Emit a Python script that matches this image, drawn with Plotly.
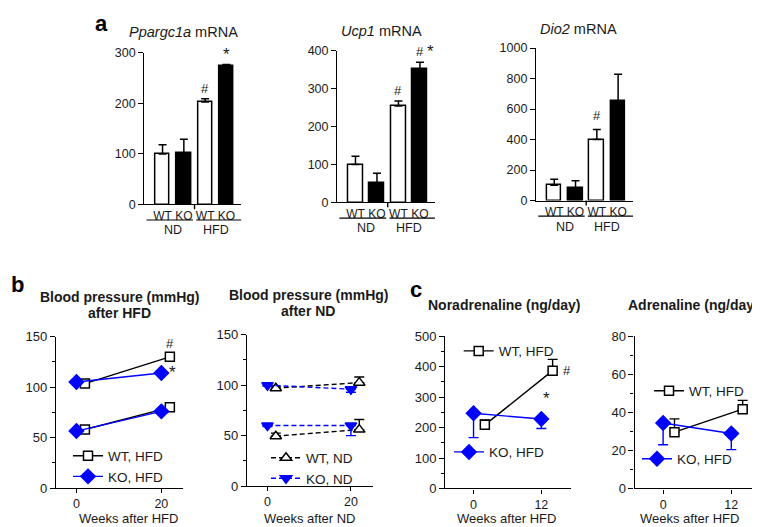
import plotly.graph_objects as go

FONT = "Liberation Sans"
BLUE = "#0000FF"
INK = "#1a1a1a"

# ---------------- Panel a: mRNA (bar charts) ----------------
genotypes = ["WT", "KO", "WT", "KO"]
diets = ["ND", "ND", "HFD", "HFD"]
ppargc1a_mean = [100, 102, 203, 274]
ppargc1a_err = [18, 27, 6, 3]
ucp1_mean = [100, 52, 255, 352]
ucp1_err = [22, 25, 13, 18]
dio2_mean = [100, 80, 400, 650]
dio2_err = [40, 50, 65, 178]

# ---------------- Panel b: blood pressure ----------------
bp_weeks = [0, 20]
wt_hfd_sys = [103.5, 130]
wt_hfd_dia = [58, 80]
ko_hfd_sys = [105, 114]
ko_hfd_dia = [56.5, 76]

wt_nd_sys = [97, 102.5]
wt_nd_sys_err = [2, 5.5]
wt_nd_dia = [49.5, 56]
wt_nd_dia_err = [3, 10]
ko_nd_sys = [100, 96]
ko_nd_sys_err = [1, 3]
ko_nd_dia = [60, 60]
ko_nd_dia_err = [1, 10]

# ---------------- Panel c: catecholamines ----------------
cat_weeks = [0, 12]
wt_nor = [209, 387]
wt_nor_err = [16, 37]
ko_nor = [247, 228]
ko_nor_err = [80, 31]
wt_adr = [29.6, 41.7]
wt_adr_err = [7, 4.6]
ko_adr = [34.4, 28.9]
ko_adr_err = [11.4, 8.5]

WT_SHIFT = 2  # WT points drawn slightly right of KO (display offset)

W, H = 760, 527
fig = go.Figure()
annotations = []
shapes = []


def px_x(p):
    return p / W


def px_y(p):
    return 1 - p / H


def txt(text, x, y, size, **kw):
    d = dict(text=text, x=px_x(x), y=px_y(y), xref="paper", yref="paper",
             showarrow=False, xanchor="center", yanchor="middle",
             font=dict(family=FONT, size=size, color=kw.pop("color", INK)))
    d.update(kw)
    annotations.append(d)


axis_common = dict(showline=True, linecolor="black", linewidth=1.4,
                   showgrid=False, zeroline=False, mirror=False,
                   tickcolor="black", tickwidth=1.4, tickangle=0,
                   tickfont=dict(family=FONT, size=12, color=INK))

layout_axes = {}

# ---------------- bar panels ----------------
bar_panels = [
    (1, ppargc1a_mean, ppargc1a_err, [0.1795, 0.3071], [0.6300, 0.9260], 300, 100),
    (2, ucp1_mean, ucp1_err, [0.4332, 0.5618], [0.6338, 0.9298], 400, 100),
    (3, dio2_mean, dio2_err, [0.6949, 0.8224], [0.6376, 0.9355], 1000, 200),
]
XR = [-0.85, 3.7]
xs = list(range(len(genotypes)))
for k, mean, err, xd, yd, ymax, dt in bar_panels:
    xa = "x" if k == 1 else f"x{k}"
    ya = "y" if k == 1 else f"y{k}"
    fig.add_trace(go.Bar(
        x=xs, y=mean, width=0.68, xaxis=xa, yaxis=ya, showlegend=False,
        marker=dict(color=["white" if g == "WT" else "black" for g in genotypes],
                    line=dict(color="black", width=1.5)),
        error_y=dict(type="data", array=err, arrayminus=[0] * len(err),
                     symmetric=False, color="black", thickness=1.5, width=4)))
    layout_axes["xaxis" if k == 1 else f"xaxis{k}"] = dict(
        axis_common, domain=xd, range=XR, anchor=ya, ticks="",
        tickvals=xs, ticktext=genotypes,
        tickfont=dict(family=FONT, size=12, color=INK))
    layout_axes["yaxis" if k == 1 else f"yaxis{k}"] = dict(
        axis_common, domain=yd, range=[0, ymax], anchor=xa, ticks="outside",
        ticklen=5, dtick=dt, tickfont=dict(family=FONT, size=12.5, color=INK))
    base = yd[0]
    # group separator tick
    sep = 1.5
    shapes.append(dict(type="line", xref=xa, yref="paper",
                       x0=sep, x1=sep, y0=base, y1=base - 5 / H,
                       line=dict(color="black", width=1.4)))
    # diet underlines & labels
    for d in ["ND", "HFD"]:
        idx = [i for i, v in enumerate(diets) if v == d]
        lo = XR[0] + 0.1 if min(idx) == 0 else sep + 0.08
        hi = sep - 0.07 if max(idx) < len(diets) - 1 else XR[1]
        shapes.append(dict(type="line", xref=xa, yref="paper",
                           x0=lo, x1=hi, y0=base - 16 / H, y1=base - 16 / H,
                           line=dict(color="black", width=1.2)))
        annotations.append(dict(text=d, x=sum(idx) / len(idx), y=0, xref=xa, yref=ya,
                                showarrow=False, yshift=-26, xanchor="center", yanchor="middle",
                                font=dict(family=FONT, size=12.5, color=INK)))

# significance marks on bars
annotations += [
    dict(text="#", x=2, y=ppargc1a_mean[2] + ppargc1a_err[2], xref="x", yref="y",
         showarrow=False, yanchor="bottom", yshift=1, font=dict(family=FONT, size=13, color=INK)),
    dict(text="*", x=3, y=ppargc1a_mean[3] + ppargc1a_err[3], xref="x", yref="y",
         showarrow=False, yanchor="bottom", yshift=-1, font=dict(family=FONT, size=17, color=INK)),
    dict(text="#", x=2, y=ucp1_mean[2] + ucp1_err[2], xref="x2", yref="y2",
         showarrow=False, yanchor="bottom", yshift=1, font=dict(family=FONT, size=13, color=INK)),
    dict(text="#", x=3, y=ucp1_mean[3] + ucp1_err[3], xref="x2", yref="y2",
         showarrow=False, yanchor="bottom", yshift=1, font=dict(family=FONT, size=13, color=INK)),
    dict(text="*", x=3, y=ucp1_mean[3] + ucp1_err[3], xref="x2", yref="y2", xshift=11,
         showarrow=False, yanchor="bottom", yshift=-1, font=dict(family=FONT, size=17, color=INK)),
    dict(text="#", x=2, y=dio2_mean[2] + dio2_err[2], xref="x3", yref="y3",
         showarrow=False, yanchor="bottom", yshift=5, font=dict(family=FONT, size=13, color=INK)),
]


# ---------------- line panels ----------------
def line_trace(x, y, color, symbol, size, name, xa, ya, dash="solid", legend=None,
               show=False, err_up=None, err_dn=None, fill=None):
    tr = dict(x=x, y=y, mode="lines+markers", xaxis=xa, yaxis=ya, name=name,
              showlegend=show, cliponaxis=False,
              line=dict(color=color, width=1.4, dash=dash),
              marker=dict(symbol=symbol, size=size, color=fill or color,
                          line=dict(color=color, width=1.5)))
    if legend:
        tr["legend"] = legend
    if err_up is not None or err_dn is not None:
        n = len(y)
        tr["error_y"] = dict(type="data", symmetric=False,
                             array=err_up if err_up is not None else [0] * n,
                             arrayminus=err_dn if err_dn is not None else [0] * n,
                             color=color, thickness=1.4, width=5)
    fig.add_trace(go.Scatter(**tr))


wt_bp_x = [w + WT_SHIFT for w in bp_weeks]
wt_cat_x = [w + WT_SHIFT for w in cat_weeks]
DASH = "5px,3px"

# b1
line_trace(wt_bp_x, wt_hfd_sys, "black", "square", 9, "WT, HFD", "x4", "y4", legend="legend", show=True, fill="white")
line_trace(wt_bp_x, wt_hfd_dia, "black", "square", 9, "WT, HFD", "x4", "y4", legend="legend", fill="white")
line_trace(bp_weeks, ko_hfd_sys, BLUE, "diamond", 11, "KO, HFD", "x4", "y4", legend="legend", show=True)
line_trace(bp_weeks, ko_hfd_dia, BLUE, "diamond", 11, "KO, HFD", "x4", "y4", legend="legend")
# b2
line_trace(wt_bp_x, wt_nd_sys, "black", "triangle-up", 10, "WT, ND", "x5", "y5", dash=DASH,
           legend="legend2", show=True, err_up=wt_nd_sys_err, fill="white")
line_trace(wt_bp_x, wt_nd_dia, "black", "triangle-up", 10, "WT, ND", "x5", "y5", dash=DASH,
           legend="legend2", err_up=wt_nd_dia_err, fill="white")
line_trace(bp_weeks, ko_nd_sys, BLUE, "triangle-down", 10, "KO, ND", "x5", "y5", dash=DASH,
           legend="legend2", show=True, err_dn=ko_nd_sys_err)
line_trace(bp_weeks, ko_nd_dia, BLUE, "triangle-down", 10, "KO, ND", "x5", "y5", dash=DASH,
           legend="legend2", err_dn=ko_nd_dia_err)
# c1
line_trace(wt_cat_x, wt_nor, "black", "square", 9, "WT, HFD", "x6", "y6", legend="legend3",
           show=True, err_up=wt_nor_err, fill="white")
line_trace(cat_weeks, ko_nor, BLUE, "diamond", 11, "KO, HFD", "x6", "y6", legend="legend4",
           show=True, err_dn=ko_nor_err)
# c2
line_trace(wt_cat_x, wt_adr, "black", "square", 9, "WT, HFD", "x7", "y7", legend="legend5",
           show=True, err_up=wt_adr_err, fill="white")
line_trace(cat_weeks, ko_adr, BLUE, "diamond", 11, "KO, HFD", "x7", "y7", legend="legend6",
           show=True, err_dn=ko_adr_err)

line_panels = [
    (4, [0.0632, 0.2303], [0.0759, 0.3719], [-4.8, 25.1], bp_weeks, 150, 50),
    (5, [0.3145, 0.4803], [0.0797, 0.3757], [-4.9, 25.3], bp_weeks, 150, 50),
    (6, [0.5754, 0.7404], [0.0753, 0.3725], [-5.0, 17.2], cat_weeks, 500, 100),
    (7, [0.8246, 0.9891], [0.0753, 0.3725], [-5.0, 17.0], cat_weeks, 80, 20),
]
for k, xd, yd, xr, ticks_x, ymax, dt in line_panels:
    layout_axes[f"xaxis{k}"] = dict(axis_common, domain=xd, range=xr, anchor=f"y{k}",
                                    ticks="outside", ticklen=4, tickvals=ticks_x,
                                    tickfont=dict(family=FONT, size=12.5, color=INK))
    layout_axes[f"yaxis{k}"] = dict(axis_common, domain=yd, range=[0, ymax], anchor=f"x{k}",
                                    ticks="outside", ticklen=5, dtick=dt,
                                    minor=dict(ticks="outside", ticklen=3, dtick=dt / 2,
                                               tickcolor="black", tickwidth=1.4),
                                    tickfont=dict(family=FONT, size=13, color=INK))

# significance marks in b and c
annotations += [
    dict(text="#", x=wt_bp_x[1], y=wt_hfd_sys[1], xref="x4", yref="y4", showarrow=False,
         yshift=13, font=dict(family=FONT, size=13, color=INK)),
    dict(text="*", x=bp_weeks[1], y=ko_hfd_sys[1], xref="x4", yref="y4", showarrow=False,
         xshift=11, yshift=0, font=dict(family=FONT, size=17, color=INK)),
    dict(text="#", x=wt_cat_x[1], y=wt_nor[1], xref="x6", yref="y6", showarrow=False,
         xshift=14, yshift=0, font=dict(family=FONT, size=13, color=INK)),
    dict(text="*", x=cat_weeks[1], y=ko_nor[1], xref="x6", yref="y6", showarrow=False,
         xshift=5, yshift=21, font=dict(family=FONT, size=17, color=INK)),
]

# ---------------- titles and labels ----------------
txt("<b>a</b>", 93.5, 9, 22, color="black")
txt("<b>b</b>", 9, 277, 22, color="black")
txt("<b>c</b>", 408, 283, 22, color="black")

txt("<i>Ppargc1a</i> mRNA", 175, 18, 14.5)
txt("<i>Ucp1</i> mRNA", 373, 16, 14.5)
txt("<i>Dio2</i> mRNA", 570, 14, 14.5)

txt("<b>Blood pressure (mmHg)</b>", 112, 290.5, 14)
txt("<b>after HFD</b>", 111, 307, 14)
txt("<b>Blood pressure (mmHg)</b>", 300, 288, 14)
txt("<b>after ND</b>", 300, 305, 14)
txt("<b>Noradrenaline (ng/day)</b>", 496, 298, 14)
txt("<b>Adrenaline (ng/day)</b>", 685, 298, 14)

for label, cx in [("Weeks after HFD", 120), ("Weeks after ND", 302),
                  ("Weeks after HFD", 498), ("Weeks after HFD", 681)]:
    annotations.append(dict(text=label, x=px_x(cx), y=0, xref="paper", yref="paper",
                            showarrow=False, xanchor="center", yanchor="bottom",
                            borderpad=0, font=dict(family=FONT, size=13, color=INK)))


def legend_at(xp, yp):
    return dict(x=px_x(xp), y=px_y(yp), xanchor="left", yanchor="top",
                bgcolor="rgba(0,0,0,0)", borderwidth=0, tracegroupgap=0, itemwidth=30,
                font=dict(family=FONT, size=13.5, color=INK))


fig.update_layout(
    width=W, height=H, margin=dict(l=0, r=0, t=0, b=0),
    paper_bgcolor="white", plot_bgcolor="white",
    annotations=annotations, shapes=shapes,
    legend=legend_at(60, 438),
    legend2=legend_at(258, 440),
    legend3=legend_at(450.7, 330),
    legend4=legend_at(441, 434),
    legend5=legend_at(641, 371),
    legend6=legend_at(629, 441),
    bargap=0,
    **layout_axes,
)

fig.write_html("out.html")
